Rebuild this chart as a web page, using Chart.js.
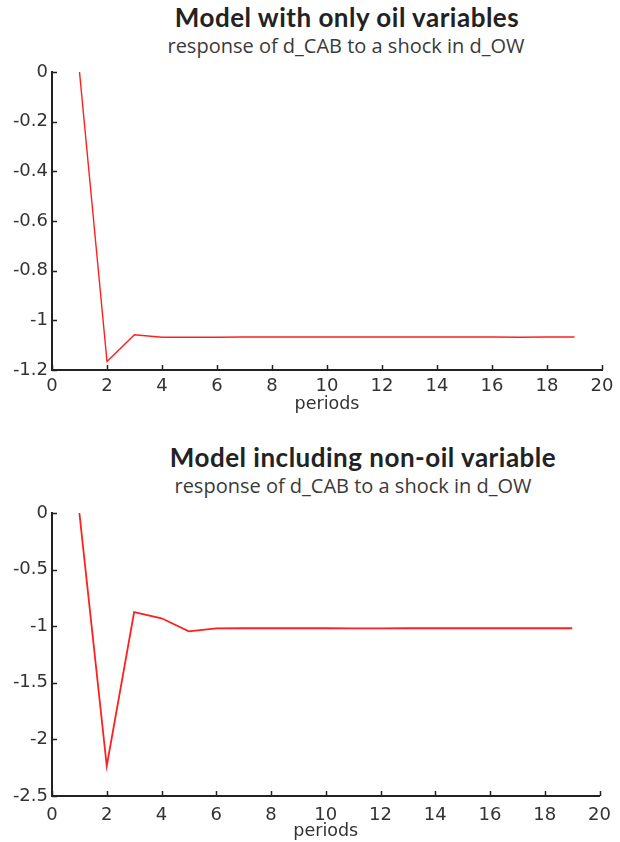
<!DOCTYPE html>
<html>
<head>
<meta charset="utf-8">
<script src="https://cdn.jsdelivr.net/npm/chart.js@4.4.1/dist/chart.umd.min.js"></script>
<style>
  html, body { margin: 0; padding: 0; background: #fff; }
  body { position: relative; width: 620px; height: 842px; overflow: hidden; }
  .title { position: absolute; left: 0; text-align: center; font-family: "Lato"; font-weight: 700; font-size: 26px; line-height: 26px; letter-spacing: 0.5px; color: #222; white-space: nowrap; }
  .sub { position: absolute; left: 0; text-align: center; font-family: "Open Sans"; font-size: 20px; line-height: 20px; color: #3a3a3a; white-space: nowrap; }
  .box { position: absolute; left: 0; width: 620px; }
</style>
</head>
<body>
<div class="title" style="top:4px;width:694px;">Model with only oil variables</div>
<div class="sub" style="top:36px;width:692px;">response of d_CAB to a shock in d_OW</div>
<div class="box" style="top:0px;height:420px;"><canvas id="c1" width="620" height="420"></canvas></div>

<div class="title" style="top:444px;width:726px;">Model including non-oil variable</div>
<div class="sub" style="top:476px;width:706px;">response of d_CAB to a shock in d_OW</div>
<div class="box" style="top:421px;height:421px;"><canvas id="c2" width="620" height="421"></canvas></div>

<script>
// ---- data ----
const periods = [1, 2, 3, 4, 5, 6, 7, 8, 9, 10, 11, 12, 13, 14, 15, 16, 17, 18, 19];
const oilOnlyResponse = [0, -1.166, -1.058, -1.068, -1.068, -1.068, -1.067, -1.067, -1.067, -1.067, -1.067, -1.067, -1.067, -1.067, -1.067, -1.067, -1.068, -1.067, -1.067];
const nonOilResponse = [0, -2.235, -0.875, -0.930, -1.045, -1.020, -1.018, -1.018, -1.018, -1.018, -1.019, -1.019, -1.018, -1.018, -1.018, -1.018, -1.018, -1.018, -1.018];
const xTickRange = { min: 0, max: 20, step: 2 };
const yRangeTop = { min: -1.2, max: 0, step: 0.2 };
const yRangeBottom = { min: -2.5, max: 0, step: 0.5 };
const xAxisTitle = 'periods';

// inward tick marks drawn through the chart's own scales
const inwardTicks = {
  id: 'inwardTicks',
  afterDatasetsDraw(chart) {
    const { ctx, chartArea, scales } = chart;
    ctx.save();
    ctx.strokeStyle = '#222';
    ctx.lineWidth = 1.5;
    scales.x.ticks.forEach(t => {
      const px = Math.round(scales.x.getPixelForValue(t.value)) + 0.5;
      ctx.beginPath();
      ctx.moveTo(px, chartArea.bottom);
      ctx.lineTo(px, chartArea.bottom - 5);
      ctx.stroke();
    });
    scales.y.ticks.forEach(t => {
      const py = Math.round(scales.y.getPixelForValue(t.value)) + 0.5;
      ctx.beginPath();
      ctx.moveTo(chartArea.left, py);
      ctx.lineTo(chartArea.left + 5, py);
      ctx.stroke();
    });
    ctx.restore();
  }
};

const fmt = v => String(Math.round(v * 100) / 100);

function makeChart(id, values, yr, opts) {
  const tickFont = { family: '"DejaVu Sans"', size: 18 };
  return new Chart(document.getElementById(id), {
    type: 'line',
    data: {
      datasets: [{
        data: periods.map((p, i) => ({ x: p, y: values[i] })),
        borderColor: '#ff1f1f',
        borderWidth: opts.lineWidth,
        pointRadius: 0,
        tension: 0,
        clip: false
      }]
    },
    options: {
      responsive: false,
      animation: false,
      events: [],
      layout: { padding: { top: opts.padTop, right: 18, left: 0, bottom: 0 } },
      plugins: { legend: { display: false }, tooltip: { enabled: false }, title: { display: false } },
      scales: {
        x: {
          type: 'linear',
          min: xTickRange.min, max: xTickRange.max,
          grid: { display: false, drawTicks: false },
          border: { display: true, color: '#222', width: 2 },
          ticks: { stepSize: xTickRange.step, color: '#333', font: tickFont, padding: opts.xPad, maxRotation: 0, autoSkip: false, callback: fmt },
          title: { display: true, text: xAxisTitle, color: '#333', font: { family: '"DejaVu Sans"', size: 17.5 }, padding: { top: 0, bottom: opts.titlePad } },
          afterFit(scale) { scale.height = opts.xHeight; }
        },
        y: {
          type: 'linear',
          min: yr.min, max: yr.max,
          grid: { display: false, drawTicks: false },
          border: { display: true, color: '#222', width: 2 },
          ticks: { stepSize: yr.step, color: '#333', font: tickFont, padding: 4, callback: fmt },
          afterFit(scale) { scale.width = 52; }
        }
      }
    },
    plugins: [inwardTicks]
  });
}

makeChart('c1', oilOnlyResponse, yRangeTop, { padTop: 72, xHeight: 50, xPad: 6, titlePad: 5, lineWidth: 1.4 });
makeChart('c2', nonOilResponse, yRangeBottom, { padTop: 92, xHeight: 46, xPad: 9, titlePad: 0, lineWidth: 1.8 });
</script>
</body>
</html>
